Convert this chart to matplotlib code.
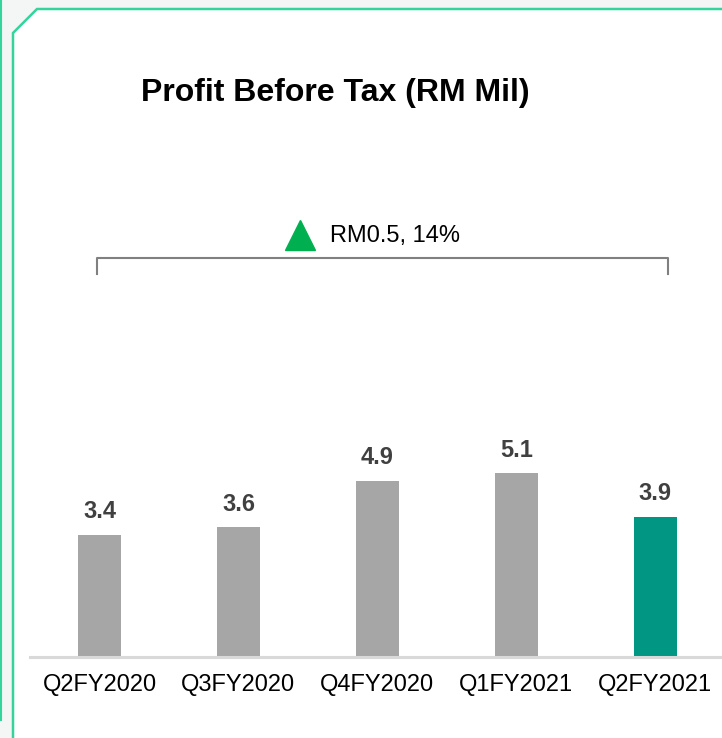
import matplotlib
matplotlib.use("Agg")
import matplotlib.pyplot as plt
from matplotlib.patches import Polygon

plt.rcParams['font.family'] = ['Liberation Sans', 'DejaVu Sans']

# data
quarters = ['Q2FY2020', 'Q3FY2020', 'Q4FY2020', 'Q1FY2021', 'Q2FY2021']
pbt = [3.4, 3.6, 4.9, 5.1, 3.9]
bar_colors = ['#a6a6a6', '#a6a6a6', '#a6a6a6', '#a6a6a6', '#009684']
title = 'Profit Before Tax (RM Mil)'
change_text = 'RM0.5, 14%'

W, H = 722, 738
fig = plt.figure(figsize=(W / 100, H / 100), dpi=100, facecolor='#f3f6f5')

# background panel with the chamfered green border (pixel coords)
bg = fig.add_axes([0, 0, 1, 1])
bg.set_xlim(0, W)
bg.set_ylim(H, 0)
bg.axis('off')
bg.add_patch(Polygon([(13, H + 5), (13, 33), (37, 9), (W + 5, 9), (W + 5, H + 5)],
                     closed=True, facecolor='white', edgecolor='#35d49c', lw=1.8))
bg.plot([1, 1], [0, 720], color='#35d49c', lw=1.5)

# main chart: baseline at y=657px, bar pitch ~139px, 36px per unit
ax = fig.add_axes([30 / W, (H - 657) / H, 1 - 30 / W, (657 - 140) / H])
ax.patch.set_alpha(0)
x = list(range(len(quarters)))
ax.bar(x, pbt, width=0.31, color=bar_colors, zorder=2)
ax.set_xlim(-0.5, 4.48)
ax.set_ylim(0, (657 - 140) / 36)

for xi, v in zip(x, pbt):
    ax.annotate(f'{v:.1f}', (xi, v), xytext=(0, 8), textcoords='offset points',
                ha='center', va='bottom', fontsize=17, fontweight='bold', color='#404040')

for s in ['top', 'left', 'right']:
    ax.spines[s].set_visible(False)
ax.spines['bottom'].set_color('#d9d9d9')
ax.spines['bottom'].set_linewidth(2.2)
ax.set_yticks([])
ax.set_xticks(x)
ax.set_xticklabels(quarters, fontsize=17, color='black')
ax.tick_params(axis='x', length=0, pad=12)

# bracket with change marker
yb = (657 - 258) / 36
yt = (657 - 274) / 36
ax.plot([-0.02, -0.02, 4.09, 4.09], [yt, yb, yb, yt], color='#808080', lw=1.5,
        clip_on=False)
ax.plot([1.44], [(657 - 235) / 36], marker='^', markersize=22, color='#00b050',
        clip_on=False, linestyle='none')
ax.text(1.66, (657 - 236) / 36, change_text, fontsize=17, color='black',
        ha='left', va='center')

fig.text(335 / W, 1 - 93 / H, title, fontsize=23, fontweight='bold',
         ha='center', va='center')

fig.savefig('out.png', dpi=100, facecolor=fig.get_facecolor())
